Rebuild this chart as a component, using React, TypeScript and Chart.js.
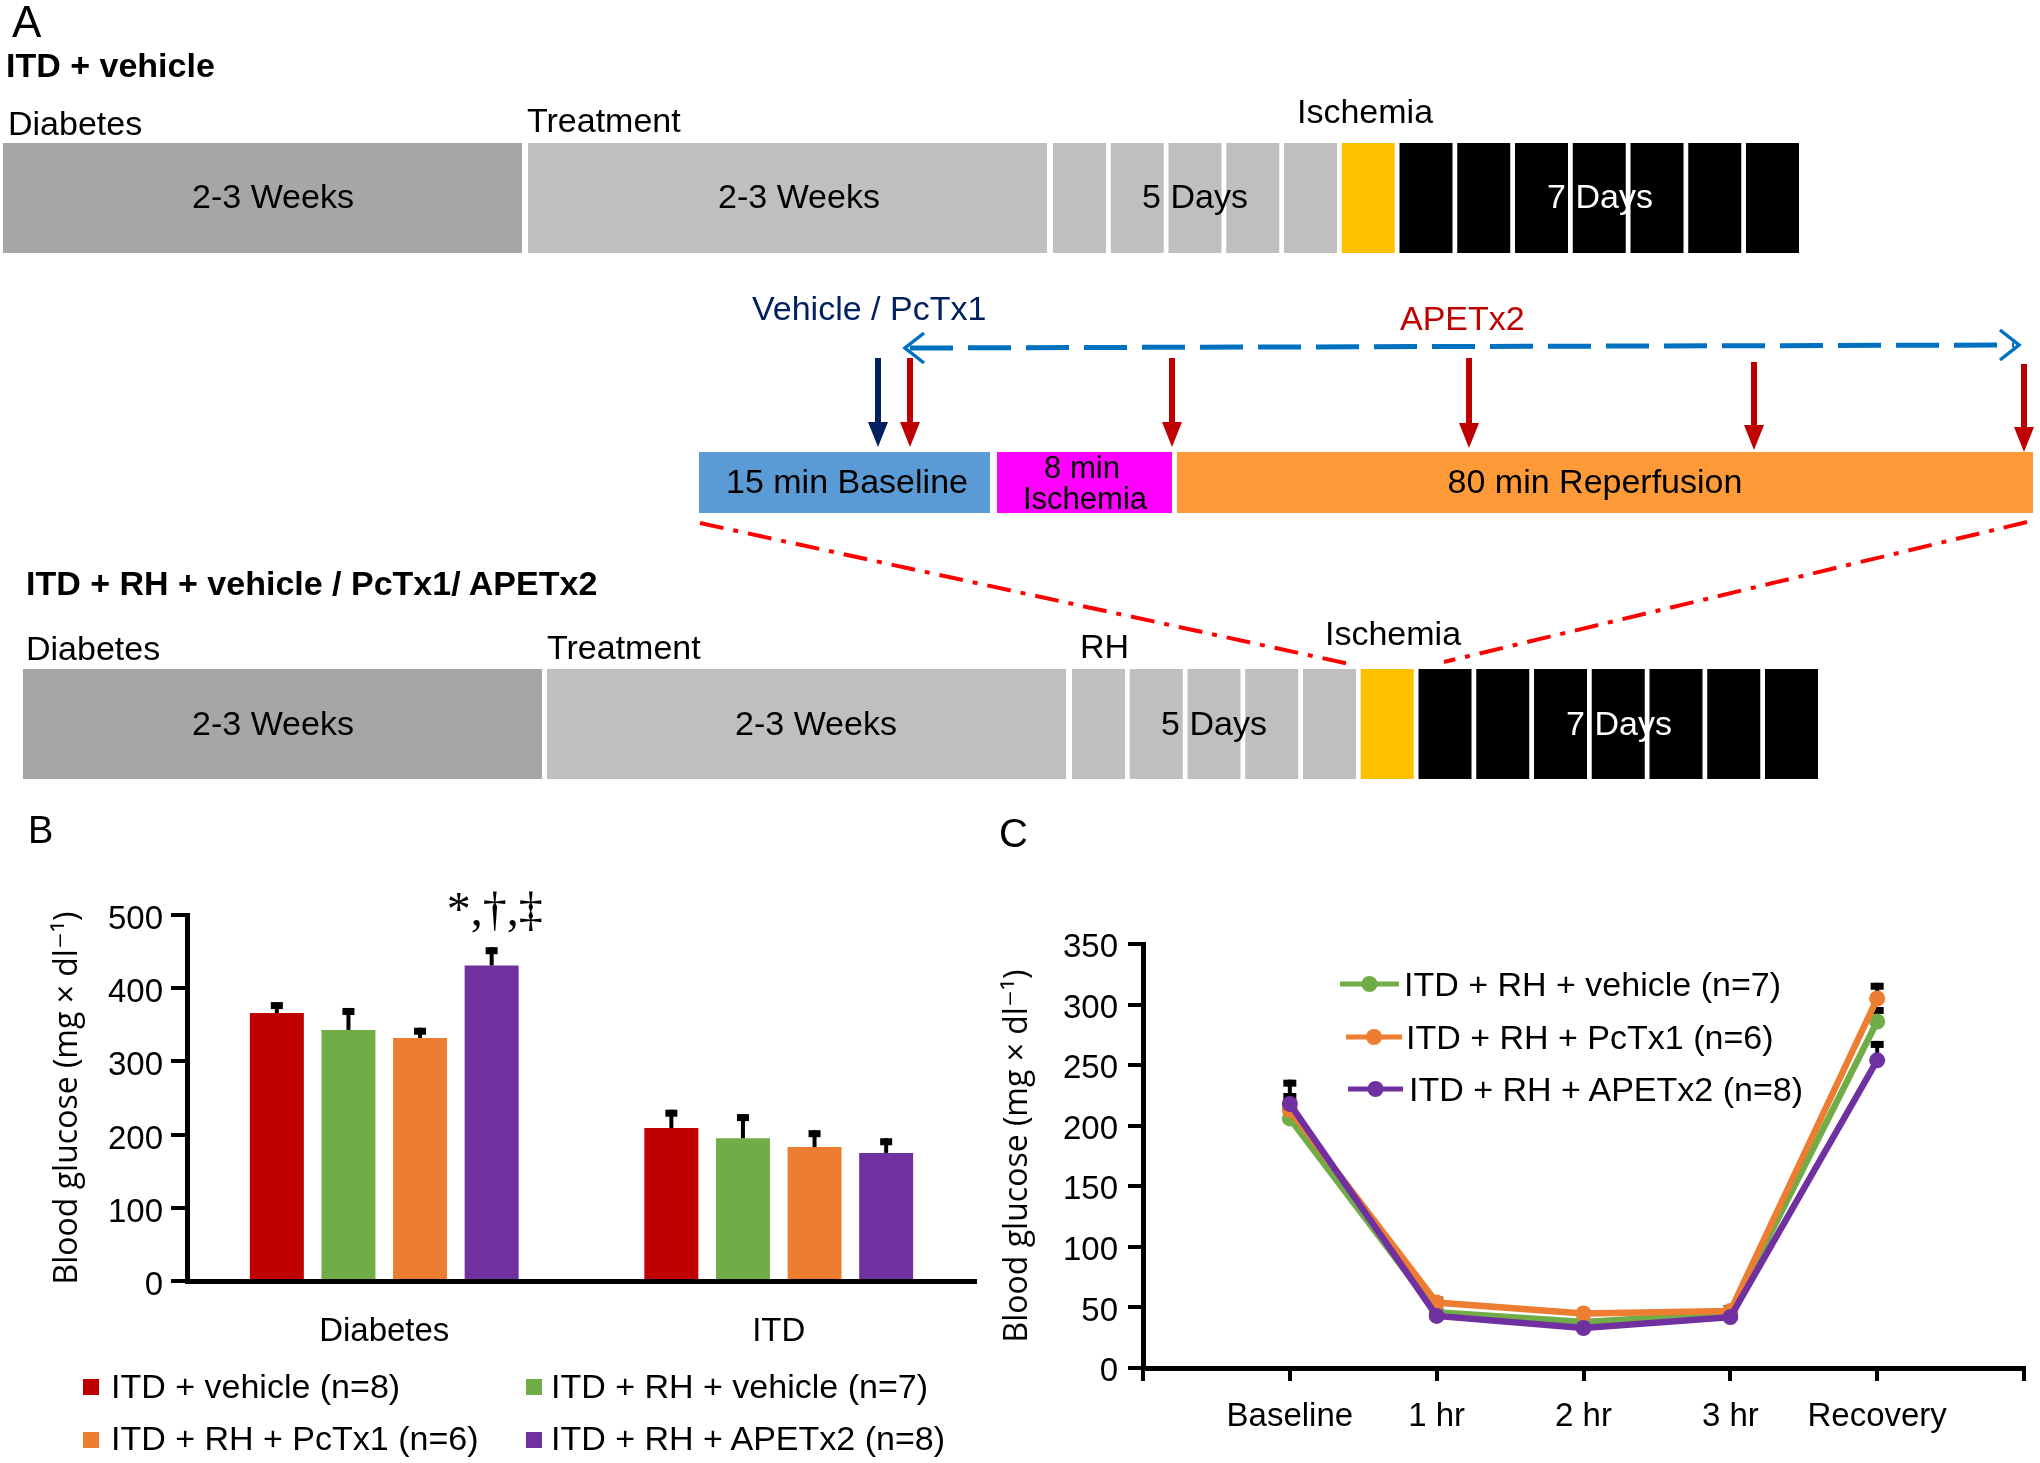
import React, { useEffect, useRef } from 'react';
import { Chart, registerables } from 'chart.js';

Chart.register(...registerables);

const FONT = '"Liberation Sans", Arial, sans-serif';
const TITLE_FONT = '"Open Sans", "DejaVu Sans", sans-serif';
const SERIF = '"Liberation Serif", "Times New Roman", serif';

// ---------- Panel B data ----------
const groupLabels = ['Diabetes', 'ITD'];
const barSeriesNames = ['ITD + vehicle (n=8)', 'ITD + RH + vehicle (n=7)', 'ITD + RH + PcTx1 (n=6)', 'ITD + RH + APETx2 (n=8)'];
const barColors = ['#c00000', '#70ad47', '#ed7d31', '#7030a0'];
const itdVehicle = [366, 209];
const itdRhVehicle = [343, 195];
const itdRhPcTx1 = [332, 183];
const itdRhApetx2 = [431, 175];
const itdVehicleSE = [15, 25];
const itdRhVehicleSE = [30, 33];
const itdRhPcTx1SE = [14, 23];
const itdRhApetx2SE = [25, 20];
const barYMax = 500;
const barYStep = 100;
const sigMarker = '*,\u2020,\u2021';
const sigSeries = 3;
const sigGroup = 0;

// ---------- Panel C data ----------
const timepoints = ['Baseline', '1 hr', '2 hr', '3 hr', 'Recovery'];
const lineSeriesNames = ['ITD + RH + vehicle (n=7)', 'ITD + RH + PcTx1 (n=6)', 'ITD + RH + APETx2 (n=8)'];
const lineColors = ['#70ad47', '#ed7d31', '#7030a0'];
const rhVehicleTime = [206, 46, 38, 45, 286];
const rhPcTx1Time = [213, 54, 45, 47, 305];
const rhApetx2Time = [218, 43, 33, 42, 254];
const rhVehicleTimeSE = [10, 5, 4, 7, 12];
const rhPcTx1TimeSE = [14, 5, 4, 5, 13];
const rhApetx2TimeSE = [20, 4, 4, 5, 16];
const lineYMax = 350;
const lineYStep = 50;

const yTitle = 'Blood glucose (mg \u00d7 dl\u207b\u00b9)';

const barValues = [itdVehicle, itdRhVehicle, itdRhPcTx1, itdRhApetx2];
const barErrors = [itdVehicleSE, itdRhVehicleSE, itdRhPcTx1SE, itdRhApetx2SE];
const lineValues = [rhVehicleTime, rhPcTx1Time, rhApetx2Time];
const lineErrors = [rhVehicleTimeSE, rhPcTx1TimeSE, rhApetx2TimeSE];

function makeErrorBars(under: boolean, lineWidth: number, capW: number, capH: number) {
  const draw = (chart: any) => {
    const ctx = chart.ctx;
    const yScale = chart.scales.y;
    chart.data.datasets.forEach((ds: any, i: number) => {
      const errs = ds.errorBars;
      if (!errs) return;
      const meta = chart.getDatasetMeta(i);
      meta.data.forEach((el: any, j: number) => {
        const raw = ds.data[j];
        const v = typeof raw === 'object' ? raw.y : raw;
        const x = el.x;
        const y0 = yScale.getPixelForValue(v);
        const y1 = yScale.getPixelForValue(v + errs[j]);
        ctx.save();
        ctx.strokeStyle = '#000';
        ctx.lineWidth = lineWidth;
        ctx.beginPath();
        ctx.moveTo(x, y0);
        ctx.lineTo(x, y1);
        ctx.stroke();
        ctx.fillStyle = '#000';
        ctx.fillRect(x - capW / 2, y1, capW, capH);
        ctx.restore();
      });
    });
  };
  return {
    id: under ? 'errorBarsUnder' : 'errorBarsOver',
    beforeDatasetsDraw(chart: any) { if (under) draw(chart); },
    afterDatasetsDraw(chart: any) { if (!under) draw(chart); },
  };
}

const significancePlugin = {
  id: 'significance',
  afterDatasetsDraw(chart: any) {
    const ds = chart.data.datasets[sigSeries];
    const el = chart.getDatasetMeta(sigSeries).data[sigGroup];
    const top = chart.scales.y.getPixelForValue(ds.data[sigGroup] + ds.errorBars[sigGroup]);
    const ctx = chart.ctx;
    ctx.save();
    ctx.font = `48px ${SERIF}`;
    ctx.fillStyle = '#000';
    ctx.textAlign = 'center';
    ctx.textBaseline = 'alphabetic';
    ctx.fillText(sigMarker, el.x + 3, top - 22);
    ctx.restore();
  },
};

const axisBorder = { display: true, width: 5, color: '#000' };

function PanelA() {
  const stride = 57.75;
  const smallW = 53;
  const rows = [
    { y: 143, big: [3, 528], small: 1053, weeks: [273, 799], days5: 1195, days7: 1600, base: 208 },
    { y: 669, big: [23, 547], small: 1072, weeks: [273, 816], days5: 1214, days7: 1619, base: 735 },
  ];
  const smallFill = (k: number) => (k < 5 ? '#bfbfbf' : k === 5 ? '#ffc000' : '#000000');
  const t = { fontFamily: FONT, fontSize: 34, fill: '#000' } as any;
  const arrow = (x: number, y1: number, tip: number, color: string, key: string) => (
    <g key={key}>
      <line x1={x} y1={y1} x2={x} y2={tip - 22} stroke={color} strokeWidth={6} />
      <polygon points={`${x - 10},${tip - 25} ${x + 10},${tip - 25} ${x},${tip}`} fill={color} />
    </g>
  );
  return (
    <g>
      <text x={12} y={37} fontFamily={FONT} fontSize={44}>A</text>
      <text x={6} y={77} {...t} fontWeight="bold">ITD + vehicle</text>
      <text x={8} y={135} {...t}>Diabetes</text>
      <text x={527} y={132} {...t}>Treatment</text>
      <text x={1297} y={123} {...t}>Ischemia</text>

      <text x={26} y={595} {...t} fontWeight="bold">ITD + RH + vehicle / PcTx1/ APETx2</text>
      <text x={26} y={660} {...t}>Diabetes</text>
      <text x={547} y={659} {...t}>Treatment</text>
      <text x={1080} y={658} {...t}>RH</text>
      <text x={1325} y={645} {...t}>Ischemia</text>

      {rows.map((r, ri) => (
        <g key={ri}>
          <rect x={r.big[0]} y={r.y} width={519} height={110} fill="#a6a6a6" />
          <rect x={r.big[1]} y={r.y} width={519} height={110} fill="#bfbfbf" />
          {Array.from({ length: 13 }).map((_, k) => (
            <rect key={k} x={r.small + k * stride} y={r.y} width={smallW} height={110} fill={smallFill(k)} />
          ))}
          <text x={r.weeks[0]} y={r.base} {...t} textAnchor="middle">2-3 Weeks</text>
          <text x={r.weeks[1]} y={r.base} {...t} textAnchor="middle">2-3 Weeks</text>
          <text x={r.days5} y={r.base} {...t} textAnchor="middle">5 Days</text>
          <text x={r.days7} y={r.base} {...t} fill="#fff" textAnchor="middle">7 Days</text>
        </g>
      ))}

      <text x={752} y={320} {...t} fill="#002060">Vehicle / PcTx1</text>
      <text x={1400} y={330} {...t} fill="#c00000">APETx2</text>
      <line x1={910} y1={348} x2={2014} y2={345} stroke="#0070c0" strokeWidth={5} strokeDasharray="43 15" />
      <polyline points="924,333 905,348 924,363" stroke="#0070c0" strokeWidth={3.5} fill="none" />
      <polyline points="2000,330 2019,345 2000,360" stroke="#0070c0" strokeWidth={3.5} fill="none" />
      {arrow(878, 358, 447, '#002060', 'n')}
      {arrow(910, 358, 447, '#c00000', 'r1')}
      {arrow(1172, 358, 447, '#c00000', 'r2')}
      {arrow(1469, 358, 448, '#c00000', 'r3')}
      {arrow(1754, 362, 450, '#c00000', 'r4')}
      {arrow(2024, 364, 452, '#c00000', 'r5')}

      <rect x={699} y={452} width={291} height={61} fill="#5b9bd5" />
      <rect x={997} y={452} width={175} height={61} fill="#ff00ff" />
      <rect x={1177} y={452} width={856} height={61} fill="#ff9a38" />
      <text x={847} y={493} {...t} textAnchor="middle">15 min Baseline</text>
      <text x={1082} y={478} {...t} fontSize={31} textAnchor="middle">8 min</text>
      <text x={1085} y={509} {...t} fontSize={31} textAnchor="middle">Ischemia</text>
      <text x={1595} y={493} {...t} textAnchor="middle">80 min Reperfusion</text>

      <line x1={700} y1={523} x2={1354} y2={665} stroke="#ff0000" strokeWidth={4} strokeDasharray="24 10 5 10" />
      <line x1={2027} y1={522} x2={1444} y2={662} stroke="#ff0000" strokeWidth={4} strokeDasharray="24 10 5 10" />
    </g>
  );
}

function Legends() {
  const t = { fontFamily: FONT, fontSize: 34, fill: '#000' } as any;
  const bPos = [
    { sx: 83, sy: 1379, tx: 111, ty: 1398 },
    { sx: 526, sy: 1379, tx: 551, ty: 1398 },
    { sx: 83, sy: 1432, tx: 111, ty: 1450 },
    { sx: 526, sy: 1432, tx: 551, ty: 1450 },
  ];
  const cPos = [
    { x1: 1340, x2: 1399, tx: 1404, ty: 996 },
    { x1: 1346, x2: 1402, tx: 1406, ty: 1049 },
    { x1: 1348, x2: 1403, tx: 1409, ty: 1101 },
  ];
  return (
    <g>
      <text x={28} y={843} fontFamily={FONT} fontSize={38}>B</text>
      <text x={999} y={847} fontFamily={FONT} fontSize={40}>C</text>
      {barSeriesNames.map((n, i) => (
        <g key={n}>
          <rect x={bPos[i].sx} y={bPos[i].sy} width={16} height={16} fill={barColors[i]} />
          <text x={bPos[i].tx} y={bPos[i].ty} {...t}>{n}</text>
        </g>
      ))}
      {lineSeriesNames.map((n, i) => {
        const p = cPos[i];
        const cy = p.ty - 12;
        return (
          <g key={n}>
            <line x1={p.x1} y1={cy} x2={p.x2} y2={cy} stroke={lineColors[i]} strokeWidth={5} />
            <circle cx={(p.x1 + p.x2) / 2} cy={cy} r={8} fill={lineColors[i]} />
            <text x={p.tx} y={p.ty} {...t}>{n}</text>
          </g>
        );
      })}
    </g>
  );
}

export default function App() {
  const barRef = useRef<HTMLCanvasElement>(null);
  const lineRef = useRef<HTMLCanvasElement>(null);

  useEffect(() => {
    Chart.defaults.color = '#000';
    Chart.defaults.font.family = FONT;

    const bar = new Chart(barRef.current as HTMLCanvasElement, {
      type: 'bar',
      data: {
        labels: groupLabels,
        datasets: barSeriesNames.map((name, i) => ({
          label: name,
          data: barValues[i],
          errorBars: barErrors[i],
          backgroundColor: barColors[i],
          borderWidth: 0,
          categoryPercentage: 0.726,
          barPercentage: 0.754,
        })) as any,
      },
      options: {
        responsive: false,
        animation: false,
        layout: { padding: { top: 54, right: 24, left: 0, bottom: 0 } },
        plugins: { legend: { display: false }, tooltip: { enabled: false } },
        scales: {
          x: {
            grid: { display: true, drawOnChartArea: false, drawTicks: false },
            border: axisBorder,
            ticks: { font: { size: 33 }, padding: 31, color: '#000' },
            afterFit: (s: any) => { s.height = 75; },
          },
          y: {
            min: 0,
            max: barYMax,
            ticks: { stepSize: barYStep, font: { size: 33 }, padding: 8, color: '#000', labelOffset: 5 },
            grid: { drawOnChartArea: false, drawTicks: true, tickLength: 16, lineWidth: 4, color: '#000' },
            border: axisBorder,
            title: { display: true, text: yTitle, font: { family: TITLE_FONT, size: 32 }, padding: { top: 49, bottom: 0 }, color: '#000' },
            afterFit: (s: any) => { s.width = 187; },
          },
        },
      } as any,
      plugins: [makeErrorBars(false, 4, 12, 7), significancePlugin],
    });

    const line = new Chart(lineRef.current as HTMLCanvasElement, {
      type: 'line',
      data: {
        datasets: lineSeriesNames.map((name, i) => ({
          label: name,
          data: lineValues[i].map((y, j) => ({ x: j + 1, y })),
          errorBars: lineErrors[i],
          borderColor: lineColors[i],
          backgroundColor: lineColors[i],
          pointBackgroundColor: lineColors[i],
          borderWidth: 6.5,
          pointRadius: 8,
          pointBorderWidth: 0,
          tension: 0,
          order: lineSeriesNames.length - i,
        })) as any,
      },
      options: {
        responsive: false,
        animation: false,
        layout: { padding: { top: 41, right: 9, left: 0, bottom: 0 } },
        plugins: { legend: { display: false }, tooltip: { enabled: false } },
        scales: {
          x: {
            type: 'linear',
            min: 0,
            max: timepoints.length + 1,
            ticks: {
              stepSize: 1,
              autoSkip: false,
              maxRotation: 0,
              font: { size: 33 },
              padding: 16,
              color: '#000',
              callback: (v: any) => timepoints[Number(v) - 1] ?? '',
            },
            grid: { drawOnChartArea: false, drawTicks: true, tickLength: 13, lineWidth: 4, color: '#000' },
            border: axisBorder,
            afterFit: (s: any) => { s.height = 75; },
          },
          y: {
            min: 0,
            max: lineYMax,
            ticks: { stepSize: lineYStep, font: { size: 33 }, padding: 10, color: '#000', labelOffset: 4 },
            grid: { drawOnChartArea: false, drawTicks: true, tickLength: 15, lineWidth: 4, color: '#000' },
            border: axisBorder,
            title: { display: true, text: yTitle, font: { family: TITLE_FONT, size: 32 }, padding: { top: 9, bottom: 0 }, color: '#000' },
            afterFit: (s: any) => { s.width = 153; },
          },
        },
      } as any,
      plugins: [makeErrorBars(true, 4, 13, 7)],
    });

    return () => {
      bar.destroy();
      line.destroy();
    };
  }, []);

  return (
    <div style={{ position: 'absolute', left: 0, top: 0, width: 2040, height: 1463, background: '#fff', overflow: 'hidden' }}>
      <canvas ref={barRef} width={1000} height={495} style={{ position: 'absolute', left: 0, top: 861, width: 1000, height: 495 }} />
      <canvas ref={lineRef} width={1050} height={540} style={{ position: 'absolute', left: 990, top: 903, width: 1050, height: 540 }} />
      <svg width={2040} height={1463} style={{ position: 'absolute', left: 0, top: 0, pointerEvents: 'none' }}>
        <PanelA />
        <Legends />
      </svg>
    </div>
  );
}
